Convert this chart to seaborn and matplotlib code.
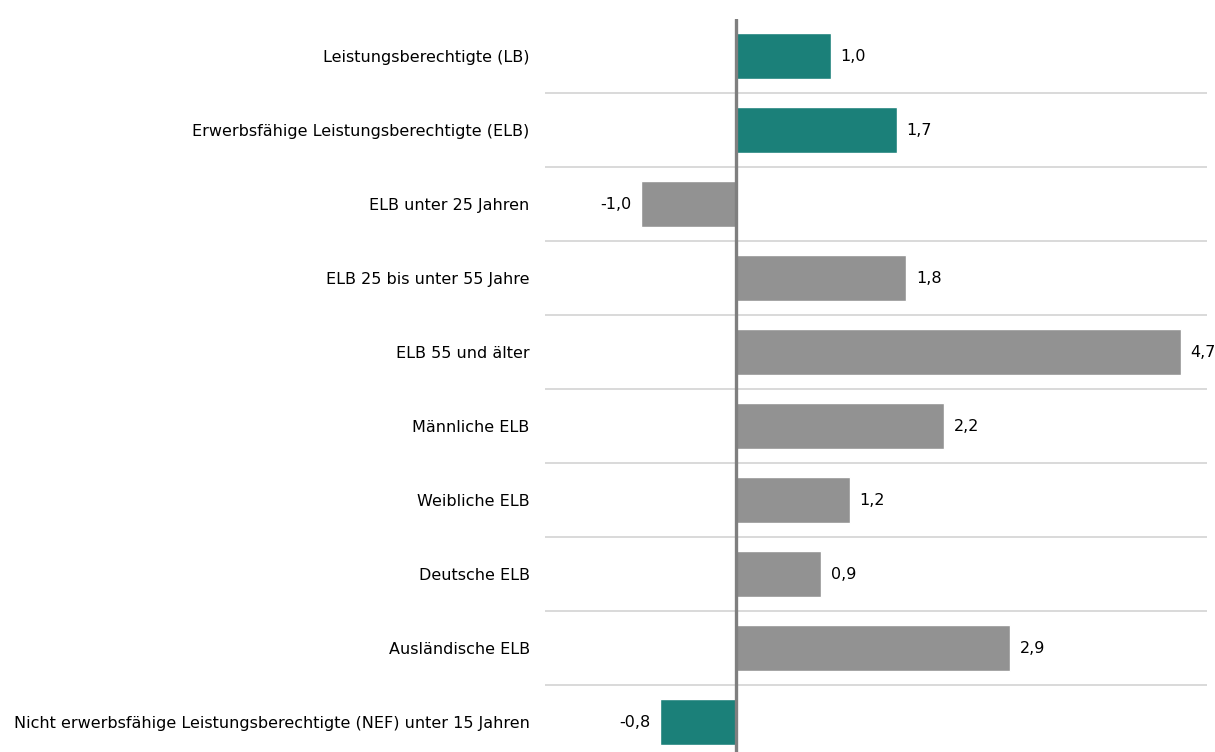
import matplotlib
matplotlib.use('Agg')
import matplotlib.pyplot as plt
import seaborn as sns
import pandas as pd

categories = [
    'Leistungsberechtigte (LB)',
    'Erwerbsfähige Leistungsberechtigte (ELB)',
    'ELB unter 25 Jahren',
    'ELB 25 bis unter 55 Jahre',
    'ELB 55 und älter',
    'Männliche ELB',
    'Weibliche ELB',
    'Deutsche ELB',
    'Ausländische ELB',
    'Nicht erwerbsfähige Leistungsberechtigte (NEF) unter 15 Jahren',
]
values = [1.0, 1.7, -1.0, 1.8, 4.7, 2.2, 1.2, 0.9, 2.9, -0.8]
groups = ['main', 'main', 'sub', 'sub', 'sub', 'sub', 'sub', 'sub', 'sub', 'main']

teal = '#1b8079'
grey = '#929292'

df = pd.DataFrame({'category': categories, 'value': values, 'group': groups})

sns.set_style('white')
plt.rcParams['font.family'] = ['DejaVu Sans']
plt.rcParams['text.color'] = 'black'
plt.rcParams['ytick.color'] = 'black'

fig = plt.figure(figsize=(12.15, 7.52), dpi=100)
ax = fig.add_axes([545 / 1215, 0.0, 662 / 1215, 733 / 752])

sns.barplot(data=df, x='value', y='category', hue='category',
            palette=[teal if g == 'main' else grey for g in groups],
            legend=False, width=0.62, orient='h', ax=ax, saturation=1)

#separator lines between rows
for i in range(len(categories) - 1):
    ax.axhline(i + 0.5, color='#d9d9d9', lw=1.4, zorder=0)

ax.axvline(0, color='#7f7f7f', lw=2.4, zorder=3)

for c in ax.containers:
    ax.bar_label(c, fmt=lambda v: f'{v:.1f}'.replace('.', ','), padding=7,
                 fontsize=11.5, color='black')

ax.set_xlim(-2.02, 4.98)
ax.set_ylim(9.405, -0.5)
ax.set_xlabel('')
ax.set_ylabel('')
ax.set_xticks([])
ax.tick_params(axis='y', length=0, pad=11, labelsize=11.5, labelcolor='black')
sns.despine(ax=ax, left=True, bottom=True)

plt.savefig('out.png', dpi=100)
plt.close()
